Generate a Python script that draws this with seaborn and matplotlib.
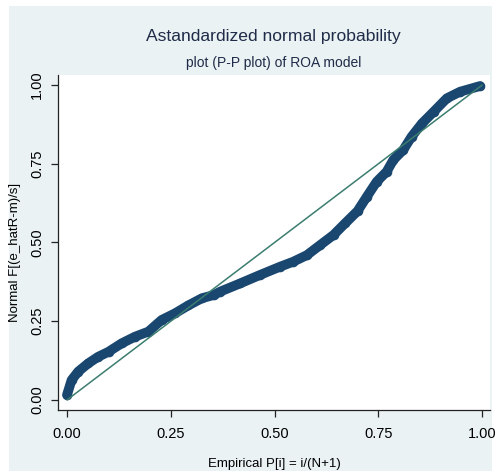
import matplotlib
matplotlib.use("Agg")
import matplotlib.pyplot as plt
from matplotlib.patches import Rectangle
import seaborn as sns

# valeurs
emp_p = [0.0, 0.011, 0.027, 0.051, 0.075, 0.10, 0.132, 0.164, 0.196, 0.228,
         0.26, 0.292, 0.325, 0.353, 0.369, 0.417, 0.465, 0.513, 0.545, 0.578,
         0.61, 0.642, 0.67, 0.70, 0.722, 0.746, 0.77, 0.786, 0.81, 0.83,
         0.855, 0.883, 0.915, 0.947, 0.995]
norm_f = [0.016, 0.063, 0.09, 0.116, 0.137, 0.153, 0.18, 0.201, 0.217, 0.254,
          0.275, 0.30, 0.323, 0.333, 0.344, 0.37, 0.397, 0.423, 0.439, 0.46,
          0.492, 0.524, 0.561, 0.60, 0.645, 0.693, 0.725, 0.762, 0.794, 0.836,
          0.878, 0.915, 0.958, 0.979, 0.997]
ref_x = [0.0, 1.0]
ref_y = [0.0, 1.0]
ticks = [0.0, 0.25, 0.5, 0.75, 1.0]
tick_labels = ["0.00", "0.25", "0.50", "0.75", "1.00"]

BG = "#EAF2F3"
NAVY = "#1a476f"
TEAL = "#3b7d6e"
TITLE_C = "#1f2b48"

sns.set_theme(style="white")
plt.rcParams["font.family"] = ["Liberation Sans", "DejaVu Sans"]

fig = plt.figure(figsize=(4.97, 4.72), dpi=100, facecolor="white")
# fond bleu clair style Stata
fig.patches.append(Rectangle((9 / 497, 1 / 472), 483 / 497, 465 / 472,
                             transform=fig.transFigure, facecolor=BG,
                             edgecolor="none", zorder=-10))
ax = fig.add_axes([58 / 497, 62 / 472, 432 / 497, 335 / 472])
ax.set_facecolor("white")

sns.lineplot(x=emp_p, y=norm_f, ax=ax, color=NAVY, linewidth=7,
             solid_capstyle="round", solid_joinstyle="round", sort=False)
sns.scatterplot(x=emp_p, y=norm_f, ax=ax, color=NAVY, s=48, edgecolor=NAVY,
                linewidth=0, zorder=3)
sns.lineplot(x=ref_x, y=ref_y, ax=ax, color=TEAL, linewidth=1.1, zorder=4)

ax.set_xlim(-0.0217, 1.019)
ax.set_ylim(-0.032, 1.032)
ax.set_xticks(ticks)
ax.set_xticklabels(tick_labels)
ax.set_yticks(ticks)
ax.set_yticklabels(tick_labels, rotation=90, va="center")

for s in ["top", "right"]:
    ax.spines[s].set_visible(False)
for s in ["left", "bottom"]:
    ax.spines[s].set_color("#222222")
    ax.spines[s].set_linewidth(0.9)

ax.tick_params(axis="both", direction="out", length=5, width=0.9,
               color="#222222", labelsize=10.5, labelcolor="black",
               left=True, bottom=True)
ax.tick_params(axis="x", pad=7)
ax.tick_params(axis="y", pad=5)

ax.set_xlabel("Empirical P[i] = i/(N+1)", fontsize=9.5, color="black")
ax.xaxis.set_label_coords(0.5, -0.142)
ax.set_ylabel("Normal F[(e_hatR-m)/s]", fontsize=9.5, color="black")
ax.yaxis.set_label_coords(-0.085, 0.47)

fig.text(0.55, 0.922, "Astandardized normal probability", ha="center",
         va="center", fontsize=12.6, color=TITLE_C)
fig.text(0.55, 0.866, "plot (P-P plot) of ROA model", ha="center",
         va="center", fontsize=10, color=TITLE_C)

fig.savefig("out.png", dpi=100, facecolor=fig.get_facecolor())
